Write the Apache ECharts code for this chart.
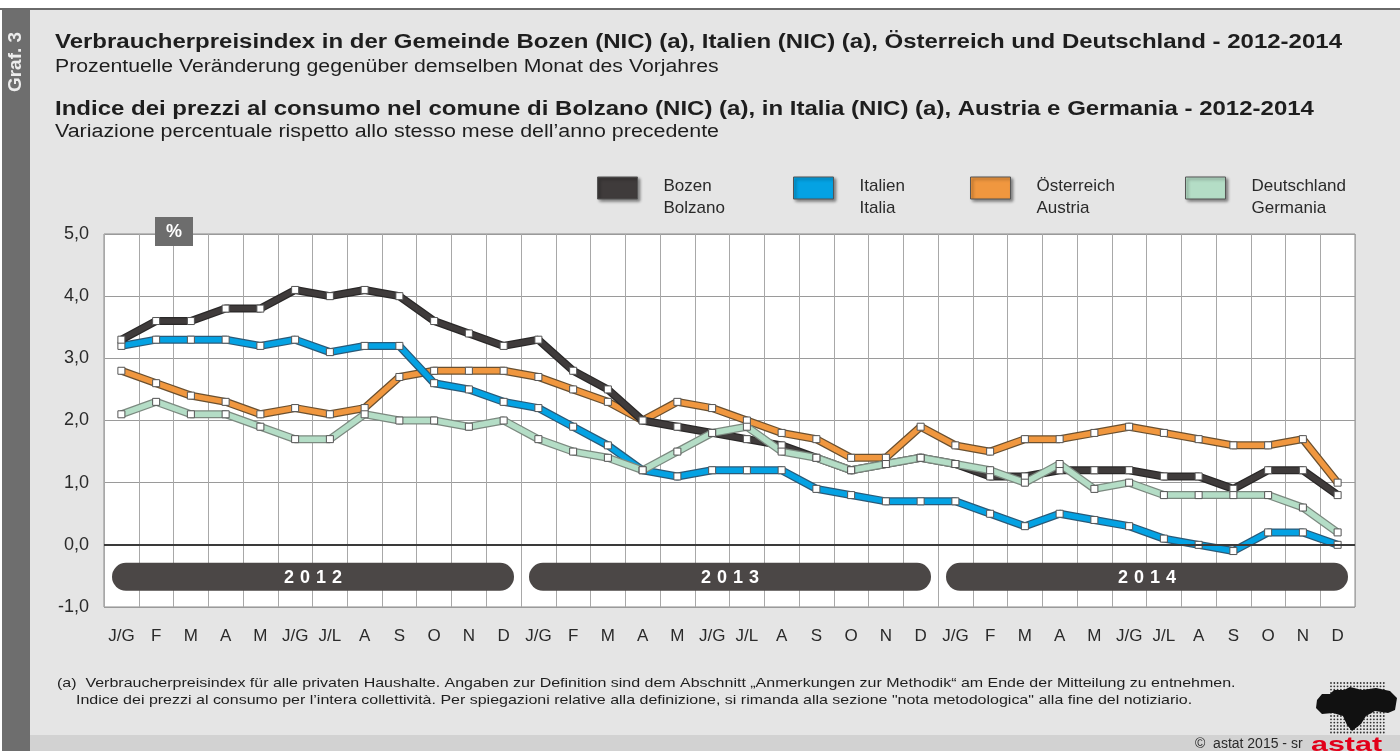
<!DOCTYPE html>
<html>
  <head>
    <meta charset="utf-8" />
    <title>Graf. 3</title>
    <script src="https://cdn.jsdelivr.net/npm/echarts@6/dist/echarts.min.js"></script>
    <style>
      html, body { margin: 0; padding: 0; background: #fff; }
      #main { width: 1400px; height: 751px; }
    </style>
  </head>
  <body>
    <div id="main"></div>
    <script type="text/javascript">
        // Monate (3 Jahre)
        var months = ['J/G', 'F', 'M', 'A', 'M', 'J/G', 'J/L', 'A', 'S', 'O', 'N', 'D'];
        var years = ['2012', '2013', '2014'];

        var bozen = [3.3, 3.6, 3.6, 3.8, 3.8, 4.1, 4.0, 4.1, 4.0, 3.6, 3.4, 3.2,
                     3.3, 2.8, 2.5, 2.0, 1.9, 1.8, 1.7, 1.6, 1.4, 1.2, 1.3, 1.4,
                     1.3, 1.1, 1.1, 1.2, 1.2, 1.2, 1.1, 1.1, 0.9, 1.2, 1.2, 0.8];
        var italien = [3.2, 3.3, 3.3, 3.3, 3.2, 3.3, 3.1, 3.2, 3.2, 2.6, 2.5, 2.3,
                       2.2, 1.9, 1.6, 1.2, 1.1, 1.2, 1.2, 1.2, 0.9, 0.8, 0.7, 0.7,
                       0.7, 0.5, 0.3, 0.5, 0.4, 0.3, 0.1, 0.0, -0.1, 0.2, 0.2, 0.0];
        var oesterreich = [2.8, 2.6, 2.4, 2.3, 2.1, 2.2, 2.1, 2.2, 2.7, 2.8, 2.8, 2.8,
                           2.7, 2.5, 2.3, 2.0, 2.3, 2.2, 2.0, 1.8, 1.7, 1.4, 1.4, 1.9,
                           1.6, 1.5, 1.7, 1.7, 1.8, 1.9, 1.8, 1.7, 1.6, 1.6, 1.7, 1.0];
        var deutschland = [2.1, 2.3, 2.1, 2.1, 1.9, 1.7, 1.7, 2.1, 2.0, 2.0, 1.9, 2.0,
                           1.7, 1.5, 1.4, 1.2, 1.5, 1.8, 1.9, 1.5, 1.4, 1.2, 1.3, 1.4,
                           1.3, 1.2, 1.0, 1.3, 0.9, 1.0, 0.8, 0.8, 0.8, 0.8, 0.6, 0.2];

        var categories = [];
        years.forEach(function () { categories = categories.concat(months); });

        var FONT = '"Liberation Sans", Arial, sans-serif';

        var myChart = echarts.init(document.getElementById('main'));

        // Linie mit dunklem Rand: erst breite Randlinie, dann Farbe
        function lineSeries(name, data, color, edge) {
            return [{
                name: name + '_rand',
                type: 'line',
                data: data,
                symbol: 'none',
                silent: true,
                animation: false,
                lineStyle: { color: edge, width: 8 },
                z: 3
            }, {
                name: name,
                type: 'line',
                data: data,
                symbol: 'rect',
                symbolSize: 7,
                silent: true,
                animation: false,
                itemStyle: { color: '#fff', borderColor: '#555', borderWidth: 1 },
                lineStyle: { color: color, width: 5.5 },
                z: 3
            }];
        }

        var colors = {
            'Bozen\nBolzano': '#3f3b3b',
            'Italien\nItalia': '#04a2e3',
            'Österreich\nAustria': '#f0973f',
            'Deutschland\nGermania': '#b4ddc6'
        };

        var series = [].concat(
            lineSeries('Österreich\nAustria', oesterreich, colors['Österreich\nAustria'], '#6a5030'),
            lineSeries('Italien\nItalia', italien, colors['Italien\nItalia'], '#2a5a78'),
            lineSeries('Bozen\nBolzano', bozen, colors['Bozen\nBolzano'], '#2a2828'),
            lineSeries('Deutschland\nGermania', deutschland, colors['Deutschland\nGermania'], '#7c8a80')
        );

        // Jahresbalken unter der Nulllinie
        series.push({
            type: 'custom',
            silent: true,
            animation: false,
            z: 2,
            data: years.map(function (y, i) { return [i * 12, i * 12 + 11]; }),
            encode: { x: [0, 1] },
            renderItem: function (params, api) {
                var a = api.coord([api.value(0), -0.29]);
                var b = api.coord([api.value(1), -0.74]);
                var bw = api.size([1, 0])[0];
                var x = a[0] - bw / 2 + 8;
                var w = b[0] - a[0] + bw - 15;
                var h = b[1] - a[1];
                return {
                    type: 'group',
                    children: [{
                        type: 'rect',
                        shape: { x: x, y: a[1], width: w, height: h, r: h / 2 },
                        style: { fill: '#4b4746' }
                    }, {
                        type: 'text',
                        style: {
                            text: years[params.dataIndex].split('').join('\u2004'),
                            x: x + w / 2, y: a[1] + h / 2 + 1,
                            align: 'center', verticalAlign: 'middle',
                            fill: '#fff', font: 'bold 18px ' + FONT
                        }
                    }]
                };
            }
        });

        // Nulllinie
        series[0].markLine = {
            silent: true,
            symbol: 'none',
            label: { show: false },
            lineStyle: { color: '#3a3a3a', width: 2, type: 'solid' },
            data: [{ yAxis: 0 }]
        };

        var legendLeft = [597, 793, 970, 1185];
        var legendNames = ['Bozen\nBolzano', 'Italien\nItalia', 'Österreich\nAustria', 'Deutschland\nGermania'];

        var legends = legendNames.map(function (n, i) {
            return {
                left: legendLeft[i],
                top: 161,
                padding: 0,
                icon: 'rect',
                itemWidth: 40,
                itemHeight: 22,
                selectedMode: false,
                data: [{
                    name: n,
                    itemStyle: {
                        color: colors[n], borderColor: '#555', borderWidth: 1,
                        shadowColor: 'rgba(0,0,0,0.45)', shadowBlur: 3, shadowOffsetX: 2, shadowOffsetY: 2
                    }
                }],
                // leere erste Zeile schiebt den Text unter die Mitte des Kästchens
                formatter: function (name) {
                    return '{s| }\n{t|' + name.split('\n').join('}\n{t|') + '}';
                },
                textStyle: {
                    padding: [0, 0, 0, 21],
                    rich: {
                        s: { fontSize: 10, lineHeight: 18 },
                        t: { fontFamily: FONT, fontSize: 17, color: '#2a2a2a', lineHeight: 22 }
                    }
                }
            };
        });

        // Logo: Punktraster
        var logoDots = [];
        for (var r = 0; r < 16; r++) {
            for (var c = 0; c < 17; c++) {
                logoDots.push({
                    type: 'circle',
                    shape: { cx: 1331 + c * 3.3, cy: 683 + r * 3.3, r: 0.9 },
                    style: { fill: '#333' }
                });
            }
        }

        function txt(s, x, y, font, sx) {
            return {
                type: 'text', x: x, y: y, scaleX: sx, silent: true,
                style: { text: s, font: font, fill: '#1e1e1e', verticalAlign: 'top' }
            };
        }

        var option = {
            backgroundColor: '#e5e5e5',
            animation: false,
            grid: {
                left: 104, top: 234, width: 1251, height: 373,
                show: true, backgroundColor: '#fff', borderColor: '#8a8a8a', borderWidth: 1
            },
            legend: legends,
            xAxis: {
                type: 'category',
                data: categories,
                boundaryGap: true,
                axisLine: { show: false },
                axisTick: { show: false },
                axisLabel: {
                    interval: 0, margin: 21, fontFamily: FONT, fontSize: 17, color: '#2a2a2a'
                },
                splitLine: { show: true, interval: 0, lineStyle: { color: '#a8a8a8', width: 1 } }
            },
            yAxis: {
                type: 'value',
                min: -1, max: 5, interval: 1,
                axisLine: { show: false },
                axisTick: { show: false },
                axisLabel: {
                    margin: 15, fontFamily: FONT, fontSize: 18, color: '#2a2a2a',
                    formatter: function (v) { return v.toFixed(1).replace('.', ','); }
                },
                splitLine: { lineStyle: { color: '#9a9a9a', width: 1 } }
            },
            series: series,
            graphic: [
                // weisser Rand oben + Linie
                { type: 'rect', shape: { x: 0, y: 0, width: 1400, height: 8 }, style: { fill: '#fff' }, silent: true },
                { type: 'rect', shape: { x: 0, y: 8, width: 1400, height: 2 }, style: { fill: '#6a6a6a' }, silent: true },
                // linker Streifen
                { type: 'rect', shape: { x: 0, y: 10, width: 2, height: 741 }, style: { fill: '#fff' }, silent: true },
                { type: 'rect', shape: { x: 2, y: 10, width: 28, height: 741 }, style: { fill: '#6e6e6e' }, silent: true },
                {
                    type: 'text', x: 16, y: 62, rotation: Math.PI / 2, silent: true,
                    style: { text: 'Graf. 3', font: 'bold 19px ' + FONT, fill: '#ececec', align: 'center', verticalAlign: 'middle' }
                },
                // Fusszeile
                { type: 'rect', shape: { x: 30, y: 735, width: 1370, height: 16 }, style: { fill: '#d2d2d2' }, silent: true },
                // Titel
                txt('Verbraucherpreisindex in der Gemeinde Bozen (NIC) (a), Italien (NIC) (a), Österreich und Deutschland - 2012-2014', 55, 32, 'bold 20px ' + FONT, 1.2),
                txt('Prozentuelle Veränderung gegenüber demselben Monat des Vorjahres', 55, 58, '18px ' + FONT, 1.18),
                txt('Indice dei prezzi al consumo nel comune di Bolzano (NIC) (a), in Italia (NIC) (a), Austria e Germania - 2012-2014', 55, 99, 'bold 20px ' + FONT, 1.2),
                txt('Variazione percentuale rispetto allo stesso mese dell\u2019anno precedente', 55, 123, '18px ' + FONT, 1.19),
                // %-Kasten
                { type: 'rect', shape: { x: 155, y: 217, width: 38, height: 29 }, style: { fill: '#6d6d6d' }, z: 100, silent: true },
                { type: 'text', x: 174, y: 232, z: 101, silent: true,
                  style: { text: '%', font: 'bold 18px ' + FONT, fill: '#fff', align: 'center', verticalAlign: 'middle' } },
                // Anmerkungen
                txt('(a)  Verbraucherpreisindex für alle privaten Haushalte. Angaben zur Definition sind dem Abschnitt \u201EAnmerkungen zur Methodik\u201C am Ende der Mitteilung zu entnehmen.', 57, 677, '13px ' + FONT, 1.23),
                txt('Indice dei prezzi al consumo per l\u2019intera collettività. Per spiegazioni relative alla definizione, si rimanda alla sezione "nota metodologica" alla fine del notiziario.', 76, 694, '13px ' + FONT, 1.23),
                // Copyright
                { type: 'text', x: 1195, y: 737, silent: true,
                  style: { text: '\u00A9  astat 2015 - sr', font: '14px ' + FONT, fill: '#2a2a2a', verticalAlign: 'top' } },
                { type: 'text', x: 1311, y: 735, scaleX: 1.45, silent: true,
                  style: { text: 'astat', font: 'bold 21px ' + FONT, fill: '#e2001a', verticalAlign: 'top' } },
                // Logo
                { type: 'group', silent: true, children: logoDots },
                { type: 'polygon', silent: true,
                  shape: { points: [[1317, 700], [1322, 694], [1330, 694], [1334, 690], [1344, 690], [1350, 687], [1362, 690], [1376, 688], [1390, 691], [1397, 698], [1395, 710], [1388, 713], [1375, 711], [1366, 716], [1361, 724], [1352, 731], [1347, 725], [1343, 716], [1333, 713], [1322, 714], [1316, 708]] },
                  style: { fill: '#111' } }
            ]
        };

        myChart.setOption(option);
    </script>
  </body>
</html>
